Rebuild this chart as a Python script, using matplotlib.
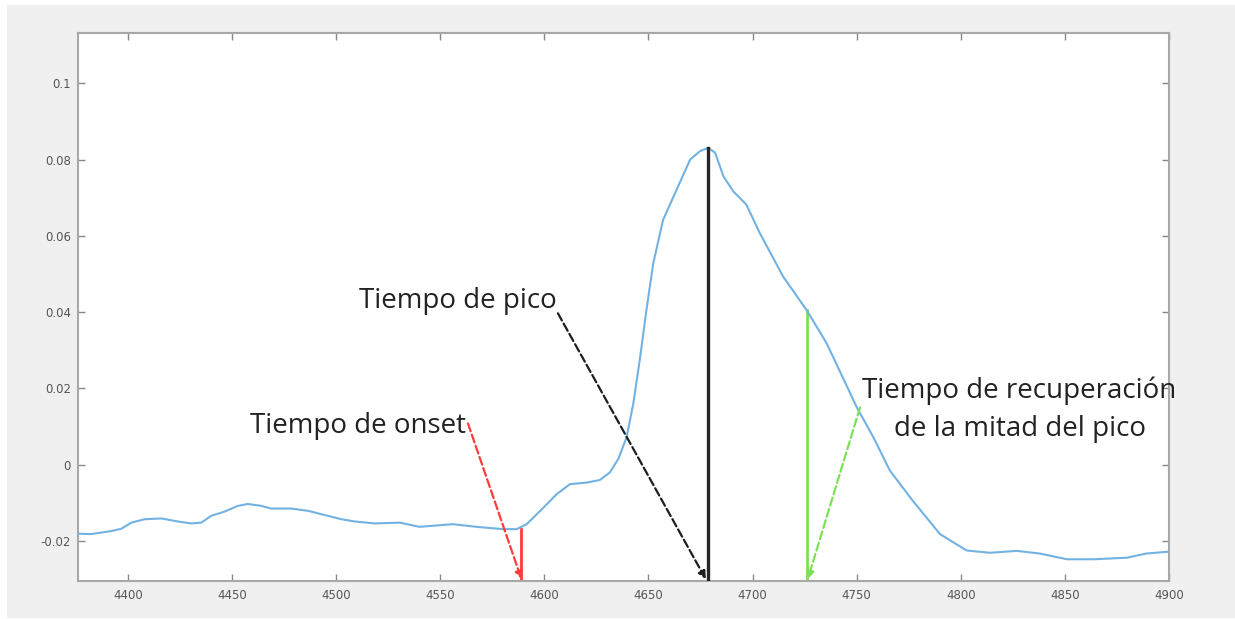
import matplotlib
matplotlib.use("Agg")
import matplotlib.pyplot as plt
from matplotlib.patches import Rectangle

# signal trace
t = [4376, 4382.3, 4392, 4396.8, 4401.6, 4408, 4416, 4424, 4430.4, 4435.2,
     4440, 4446.4, 4452.8, 4457.6, 4464, 4468.8, 4478.4, 4486.5, 4494.5,
     4502.5, 4509, 4518.5, 4530.6, 4540, 4556, 4567.5, 4580, 4586.7, 4591.5,
     4598, 4606, 4612.3, 4620.3, 4626.7, 4631.5, 4635.5, 4639.5, 4642.7,
     4646, 4649, 4652.3, 4657, 4663.5, 4670, 4674.7, 4678.7, 4682, 4686,
     4690.7, 4697, 4703.5, 4714.7, 4726, 4735.6, 4750, 4758, 4766, 4777,
     4790, 4802.8, 4814, 4826.8, 4838, 4851, 4863.7, 4879.7, 4889, 4900]
v = [-0.0181, -0.0182, -0.0174, -0.0168, -0.0152, -0.0143, -0.0141, -0.0149,
     -0.0154, -0.0152, -0.0134, -0.0123, -0.0108, -0.0103, -0.0108, -0.0115,
     -0.0115, -0.0121, -0.0132, -0.0143, -0.0149, -0.0154, -0.0152, -0.0163,
     -0.0156, -0.0163, -0.0169, -0.0169, -0.0156, -0.0121, -0.0077, -0.0051,
     -0.0047, -0.0040, -0.0020, 0.0015, 0.0072, 0.0160, 0.0282, 0.0405,
     0.0528, 0.0642, 0.0721, 0.0800, 0.0822, 0.0831, 0.0818, 0.0756, 0.0717,
     0.0682, 0.0607, 0.0493, 0.0405, 0.0318, 0.0151, 0.0072, -0.0016, -0.0095,
     -0.0182, -0.0225, -0.0231, -0.0226, -0.0233, -0.0248, -0.0248, -0.0244,
     -0.0233, -0.0228]

# marked instants
t_onset, v_onset = 4589, -0.0168
t_peak, v_peak = 4678.5, 0.0831
t_half, v_half = 4726, 0.0405

xticks = [4400, 4450, 4500, 4550, 4600, 4650, 4700, 4750, 4800, 4850, 4900]
yticks = [-0.02, 0, 0.02, 0.04, 0.06, 0.08, 0.1]

fig = plt.figure(figsize=(12.35, 6.19), dpi=100, facecolor="white")
fig.patches.append(Rectangle((7 / 1235, 1 / 619), 1, 613 / 619,
                             transform=fig.transFigure, facecolor="#f0f0f0",
                             edgecolor="none", zorder=-10))
ax = fig.add_axes([78 / 1235, 1 - 581 / 619, 1091 / 1235, 548 / 619])

ymin = -0.0305
ax.plot(t, v, color="#72b2e2", lw=1.5, zorder=3)
ax.plot([t_onset, t_onset], [v_onset, ymin], color="#ff3b3b", lw=2, zorder=2)
ax.plot([t_peak, t_peak], [v_peak, ymin], color="#262626", lw=2.4, zorder=4)
ax.plot([t_half, t_half], [v_half, ymin], color="#7ee05a", lw=2, zorder=2)

font = ["Open Sans", "DejaVu Sans"]
fs = 20
tc = "#222222"


def dashed_arrow(x0, y0, x1, y1, c):
    ax.annotate("", xy=(x1, y1), xytext=(x0, y0),
                arrowprops=dict(arrowstyle="-|>", ls="--", lw=1.6, color=c,
                                mutation_scale=11, shrinkA=0, shrinkB=0))


dashed_arrow(4563.3, 0.0108, t_onset, -0.0300, "#ff3b3b")
dashed_arrow(4606.5, 0.0397, t_peak - 1, -0.0300, "#1e1e1e")
dashed_arrow(4751.6, 0.0150, t_half + 0.5, -0.0300, "#7ee05a")

ax.text(4562.5, 0.0082, "Tiempo de onset", ha="right", va="baseline",
        fontsize=fs, family=font, color=tc)
ax.text(4606, 0.0411, "Tiempo de pico", ha="right", va="baseline",
        fontsize=fs, family=font, color=tc)
ax.text(4828.2, 0.0174, "Tiempo de recuperación", ha="center", va="baseline",
        fontsize=fs, family=font, color=tc, clip_on=False, zorder=5)
ax.text(4828.2, 0.0076, "de la mitad del pico", ha="center", va="baseline",
        fontsize=fs, family=font, color=tc, clip_on=False, zorder=5)

ax.set_xlim(4376, 4900)
ax.set_ylim(ymin, 0.1132)
ax.set_xticks(xticks)
ax.set_yticks(yticks)
ax.set_yticklabels(["%g" % y for y in yticks])
ax.tick_params(direction="in", length=5, width=1, colors="#888888",
               labelcolor="#555555", labelsize=8.5, top=True, right=True)
ax.tick_params(axis="x", pad=6)
ax.tick_params(axis="y", pad=5)
for s in ax.spines.values():
    s.set_color("#a8a8a8")
    s.set_linewidth(1.5)

fig.savefig("out.png", dpi=100, facecolor=fig.get_facecolor())
